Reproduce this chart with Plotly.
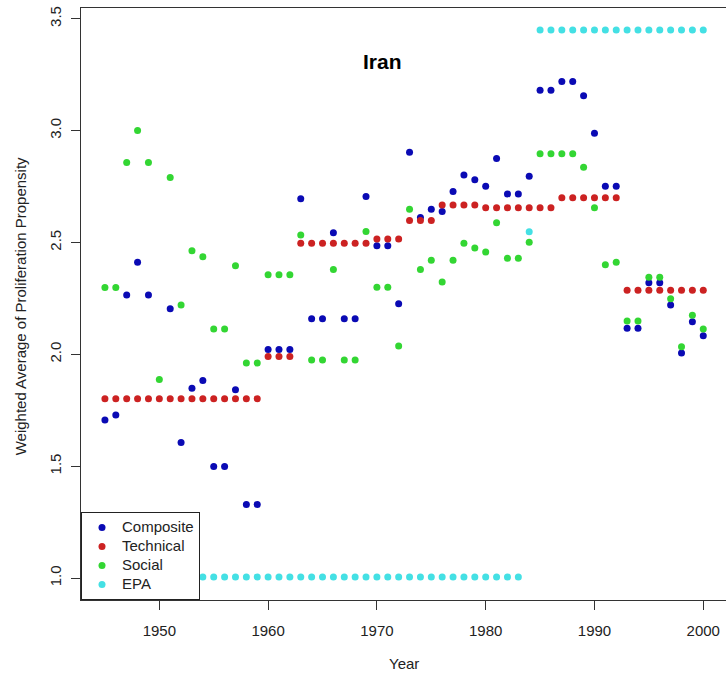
import plotly.graph_objects as go

years = list(range(1945, 2001))

composite = [1.707, 1.729, 2.265, 2.412, 2.265, None, 2.204, 1.606, 1.848, 1.883,
             1.499, 1.499, 1.842, 1.329, 1.329, 2.022, 2.022, 2.022, 2.695, 2.159,
             2.159, 2.543, 2.159, 2.159, 2.705, 2.485, 2.485, 2.226, 2.903, 2.612,
             2.649, 2.638, 2.728, 2.802, 2.780, 2.751, 2.875, 2.717, 2.717, 2.796,
             3.180, 3.180, 3.220, 3.220, 3.156, 2.988, 2.751, 2.751, 2.117, 2.117,
             2.320, 2.320, 2.220, 2.006, 2.146, 2.083]

technical = [1.802, 1.802, 1.802, 1.802, 1.802, 1.802, 1.802, 1.802, 1.802, 1.802,
             1.802, 1.802, 1.802, 1.802, 1.802, 1.990, 1.990, 1.990, 2.497, 2.497,
             2.497, 2.497, 2.497, 2.497, 2.497, 2.515, 2.515, 2.515, 2.598, 2.598,
             2.598, 2.668, 2.668, 2.668, 2.668, 2.655, 2.655, 2.655, 2.655, 2.655,
             2.655, 2.655, 2.700, 2.700, 2.700, 2.700, 2.700, 2.700, 2.287, 2.287,
             2.287, 2.287, 2.287, 2.287, 2.287, 2.287]

social = [2.299, 2.299, 2.858, 3.000, 2.858, 1.887, 2.790, 2.220, 2.463, 2.436,
          2.113, 2.113, 2.396, 1.961, 1.961, 2.356, 2.356, 2.356, 2.533, 1.975,
          1.975, 2.379, 1.975, 1.975, 2.549, 2.300, 2.300, 2.037, 2.649, 2.379,
          2.420, 2.323, 2.420, 2.497, 2.475, 2.457, 2.588, 2.429, 2.429, 2.501,
          2.897, 2.897, 2.897, 2.897, 2.836, 2.655, 2.400, 2.412, 2.149, 2.149,
          2.345, 2.345, 2.249, 2.034, 2.175, 2.113]

epa = [1.005, 1.005, 1.005, 1.005, 1.005, 1.005, 1.005, 1.005, 1.005, 1.005,
       1.005, 1.005, 1.005, 1.005, 1.005, 1.005, 1.005, 1.005, 1.005, 1.005,
       1.005, 1.005, 1.005, 1.005, 1.005, 1.005, 1.005, 1.005, 1.005, 1.005,
       1.005, 1.005, 1.005, 1.005, 1.005, 1.005, 1.005, 1.005, 1.005, 2.548,
       3.45, 3.45, 3.45, 3.45, 3.45, 3.45, 3.45, 3.45, 3.45, 3.45,
       3.45, 3.45, 3.45, 3.45, 3.45, 3.45]

series = [("Composite", composite, "#0a0ab4"),
          ("Technical", technical, "#cc2222"),
          ("Social", social, "#33d633"),
          ("EPA", epa, "#44e0e4")]

FONT = "Liberation Sans, Arial, sans-serif"
TXT = "#222222"

fig = go.Figure()
for name, vals, col in series:
    fig.add_trace(go.Scatter(
        x=years, y=vals, mode="markers",
        name="<span style='font-size:15px'>" + name + "</span>",
        marker=dict(color=col, size=7, line=dict(width=0))))

fig.update_layout(
    width=726, height=677,
    margin=dict(l=81, r=0, t=8, b=77),
    paper_bgcolor="white", plot_bgcolor="white",
    font=dict(family=FONT, size=15, color=TXT),
    showlegend=True,
    legend=dict(x=0, y=0, xanchor="left", yanchor="bottom",
                bgcolor="white", bordercolor="#222222", borderwidth=1,
                font=dict(family=FONT, size=12, color=TXT),
                itemwidth=30, tracegroupgap=0),
    xaxis=dict(range=[1942.8, 2002.09], tickvals=[1950, 1960, 1970, 1980, 1990, 2000],
               showgrid=False, zeroline=False, showline=True, linecolor="#333333",
               linewidth=1.2, mirror=True, ticks="outside", ticklen=9, tickwidth=1.2,
               tickcolor="#333333", ticklabelstandoff=8,
               tickfont=dict(family=FONT, size=15, color=TXT)),
    yaxis=dict(range=[0.902, 3.548], tickvals=[1.0, 1.5, 2.0, 2.5, 3.0, 3.5],
               tickformat=".1f", showgrid=False, zeroline=False, showline=True,
               linecolor="#333333", linewidth=1.2, mirror=False, ticks="outside",
               ticklen=9, tickwidth=1.2, tickcolor="#333333", tickangle=-90,
               ticklabelstandoff=4,
               tickfont=dict(family=FONT, size=15, color=TXT)),
    annotations=[
        dict(text="<b>Iran</b>", xref="paper", yref="paper", x=0.468, y=0.909,
             xanchor="center", yanchor="middle", showarrow=False,
             font=dict(family=FONT, size=21, color="#000000")),
        dict(text="Year", xref="paper", yref="paper", x=0.5, y=-0.108,
             xanchor="center", yanchor="middle", showarrow=False,
             font=dict(family=FONT, size=15, color=TXT)),
        dict(text="Weighted Average of Proliferation Propensity", xref="paper",
             yref="paper", x=-0.0946, y=0.496, xanchor="center", yanchor="middle",
             textangle=-90, showarrow=False,
             font=dict(family=FONT, size=15, color=TXT)),
    ],
)

fig.write_html("out.html",
               config={"displayModeBar": False},
               post_script="document.body.style.margin='0';document.body.style.overflow='hidden';")
